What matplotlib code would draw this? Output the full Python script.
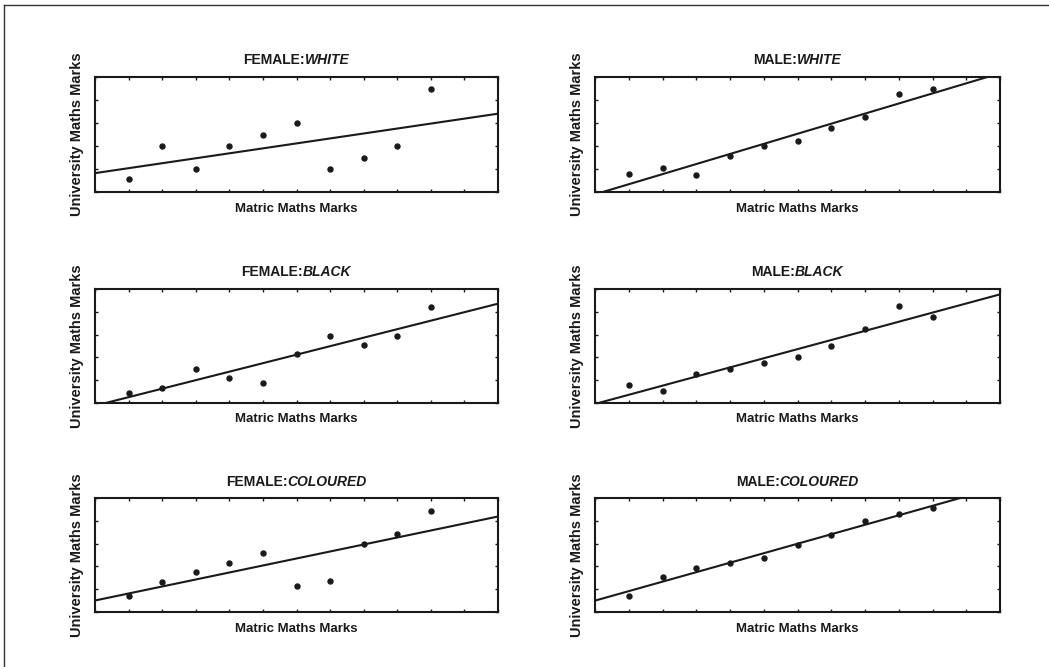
import numpy as np
import matplotlib
matplotlib.use("Agg")
import matplotlib.pyplot as plt
from matplotlib.lines import Line2D

plt.rcParams['font.family'] = ['Liberation Sans', 'DejaVu Sans']

# ---- data ----
x_pos = [1, 2, 3, 4, 5, 6, 7, 8, 9, 10]
female_white = [0.55, 2.0, 1.0, 2.0, 2.5, 3.0, 1.0, 1.5, 2.0, 4.5]
male_white = [0.78, 1.03, 0.75, 1.55, 2.0, 2.23, 2.78, 3.26, 4.25, 4.49]
female_black = [0.44, 0.67, 1.5, 1.1, 0.89, 2.14, 2.93, 2.54, 2.93, 4.19]
male_black = [0.79, 0.53, 1.26, 1.5, 1.76, 2.02, 2.49, 3.24, 4.25, 3.78]
female_coloured = [0.72, 1.32, 1.75, 2.17, 2.6, 1.14, 1.35, 3.0, 3.44, 4.44]
male_coloured = [0.70, 1.54, 1.93, 2.15, 2.37, 2.94, 3.38, 3.99, 4.3, 4.56]

genders = ["FEMALE:", "MALE:"]
groups = ["WHITE", "BLACK", "COLOURED"]
series = {
    ("FEMALE:", "WHITE"): female_white,
    ("MALE:", "WHITE"): male_white,
    ("FEMALE:", "BLACK"): female_black,
    ("MALE:", "BLACK"): male_black,
    ("FEMALE:", "COLOURED"): female_coloured,
    ("MALE:", "COLOURED"): male_coloured,
}
x_label = "Matric Maths Marks"
y_label = "University Maths Marks"
x_range = (0, 12)
y_range = (0, 5)

W, H = 1049, 667
fig = plt.figure(figsize=(W / 100, H / 100), dpi=100)
fig.patch.set_facecolor("white")

ink = "#1a1a1a"
col_left = [95, 595]
col_width = [403, 405]
row_top = [77, 289, 498]
row_height = [115, 114, 114]

# outer frame (top and left only, as in the scan)
fig.add_artist(Line2D([4 / W, 1], [1 - 5 / H, 1 - 5 / H], color="#333333", lw=1.0))
fig.add_artist(Line2D([4 / W, 4 / W], [1 - 5 / H, 0], color="#333333", lw=1.0))

title_parts = []
for r, grp in enumerate(groups):
    for c, gen in enumerate(genders):
        l = col_left[c] / W
        w = col_width[c] / W
        h = row_height[r] / H
        b = 1 - (row_top[r] + row_height[r]) / H
        ax = fig.add_axes([l, b, w, h])
        y = np.array(series[(gen, grp)])
        xs = np.array(x_pos)
        ax.plot(xs, y, 'o', color=ink, ms=3.6, zorder=3)
        k, m = np.polyfit(xs, y, 1)
        xx = np.array(x_range)
        ax.plot(xx, k * xx + m, '-', color=ink, lw=1.5, zorder=2)
        ax.set_xlim(*x_range)
        ax.set_ylim(*y_range)
        ax.set_xticks(np.arange(x_range[0], x_range[1] + 1))
        ax.set_yticks(np.arange(y_range[0], y_range[1] + 1))
        ax.tick_params(direction='in', length=2.5, width=1, color=ink,
                       top=True, right=True, labelbottom=False, labelleft=False)
        for s in ax.spines.values():
            s.set_linewidth(1.5)
            s.set_color(ink)
        ax.set_xlabel(x_label, fontsize=9.5, fontweight='bold', color=ink, va='top')
        ax.xaxis.set_label_coords(0.5, -10.5 / row_height[r])
        ax.set_ylabel(y_label, fontsize=10.5, fontweight='bold', color=ink)
        ax.yaxis.set_label_coords(-11 / col_width[c], 0.5)
        ty = 1 + 12.5 / row_height[r]
        t1 = ax.text(0.5, ty, gen, transform=ax.transAxes, ha='left', va='baseline',
                     fontsize=10, fontweight='bold', color=ink)
        t2 = ax.annotate(grp, xy=(1, 0), xycoords=t1, ha='left', va='bottom',
                         fontsize=10, fontweight='bold', style='italic', color=ink)
        title_parts.append((ax, t1, t2))

fig.canvas.draw()
renderer = fig.canvas.get_renderer()
for ax, t1, t2 in title_parts:
    w1 = t1.get_window_extent(renderer).width
    w2 = t2.get_window_extent(renderer).width
    axw = ax.get_window_extent(renderer).width
    x0, y0 = t1.get_position()
    t1.set_position((0.5 - (w1 + w2) / 2 / axw, y0))

fig.savefig("out.png", dpi=100, facecolor="white")
